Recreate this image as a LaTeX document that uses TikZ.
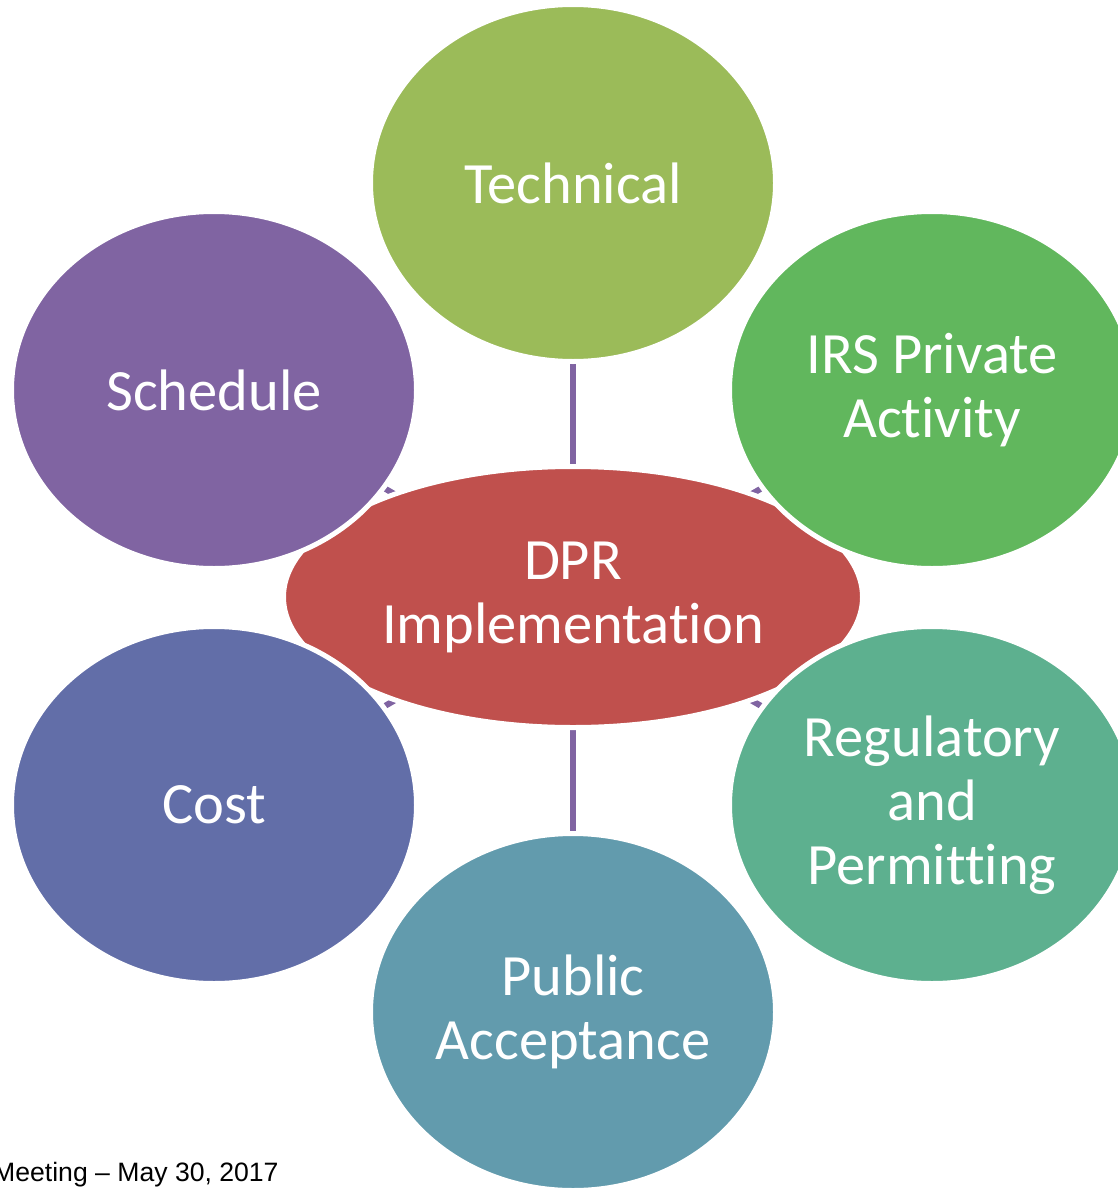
\documentclass[tikz,border=0pt]{standalone}
\usepackage{fontspec}
\setmainfont[Ligatures=NoCommon]{Carlito}
\newfontfamily\arialfont[Ligatures=TeX]{Liberation Sans}
\usetikzlibrary{shapes.geometric,backgrounds}
\definecolor{cTech}{HTML}{9BBB59}
\definecolor{cSched}{HTML}{8064A2}
\definecolor{cIRS}{HTML}{61B75D}
\definecolor{cReg}{HTML}{5DB08F}
\definecolor{cPub}{HTML}{629BAD}
\definecolor{cCost}{HTML}{626EA8}
\definecolor{cDPR}{HTML}{C0504D}
\definecolor{cLine}{HTML}{8064A2}
\tikzset{
  outer/.style={ellipse, draw=white, line width=5pt, minimum width=405pt, minimum height=357pt,
    inner sep=0pt, text=white, align=center, font=\fontsize{58.5}{64}\selectfont},
  hub/.style={ellipse, draw=white, line width=5pt, fill=cDPR, minimum width=579pt, minimum height=261pt,
    inner sep=0pt, text=white, align=center, font=\fontsize{58.5}{64}\selectfont},
  conn/.style={draw=cLine, line width=6pt},
  foot/.style={font=\arialfont\fontsize{26.6}{30}\selectfont, text=black, inner sep=0pt}
}
\begin{document}
\begin{tikzpicture}[x=1pt,y=-1pt]
\useasboundingbox (0,0) rectangle (1118,1188);
\clip (0,0) rectangle (1118,1188);
\node[hub] (dpr) at (573,597) {DPR\\Implementation};
\node[outer, fill=cTech] (tech) at (573,183) {Technical};
\node[outer, fill=cSched] (sched) at (214,390) {Schedule};
\node[outer, fill=cIRS] (irs) at (932,390) {IRS Private\\Activity};
\node[outer, fill=cCost] (cost) at (214,805) {Cost};
\node[outer, fill=cReg] (reg) at (932,805) {Regulatory\\and\\Permitting};
\node[outer, fill=cPub] (pub) at (573,1012) {Public\\Acceptance};
\begin{pgfonlayer}{background}
\foreach \n in {tech,sched,irs,cost,reg,pub}{
  \draw[conn] (dpr.center) -- (\n.center);
}
\end{pgfonlayer}
\node[foot, anchor=base west] (date) at (-7,1181) {Meeting – May 30, 2017};
\end{tikzpicture}
\end{document}
